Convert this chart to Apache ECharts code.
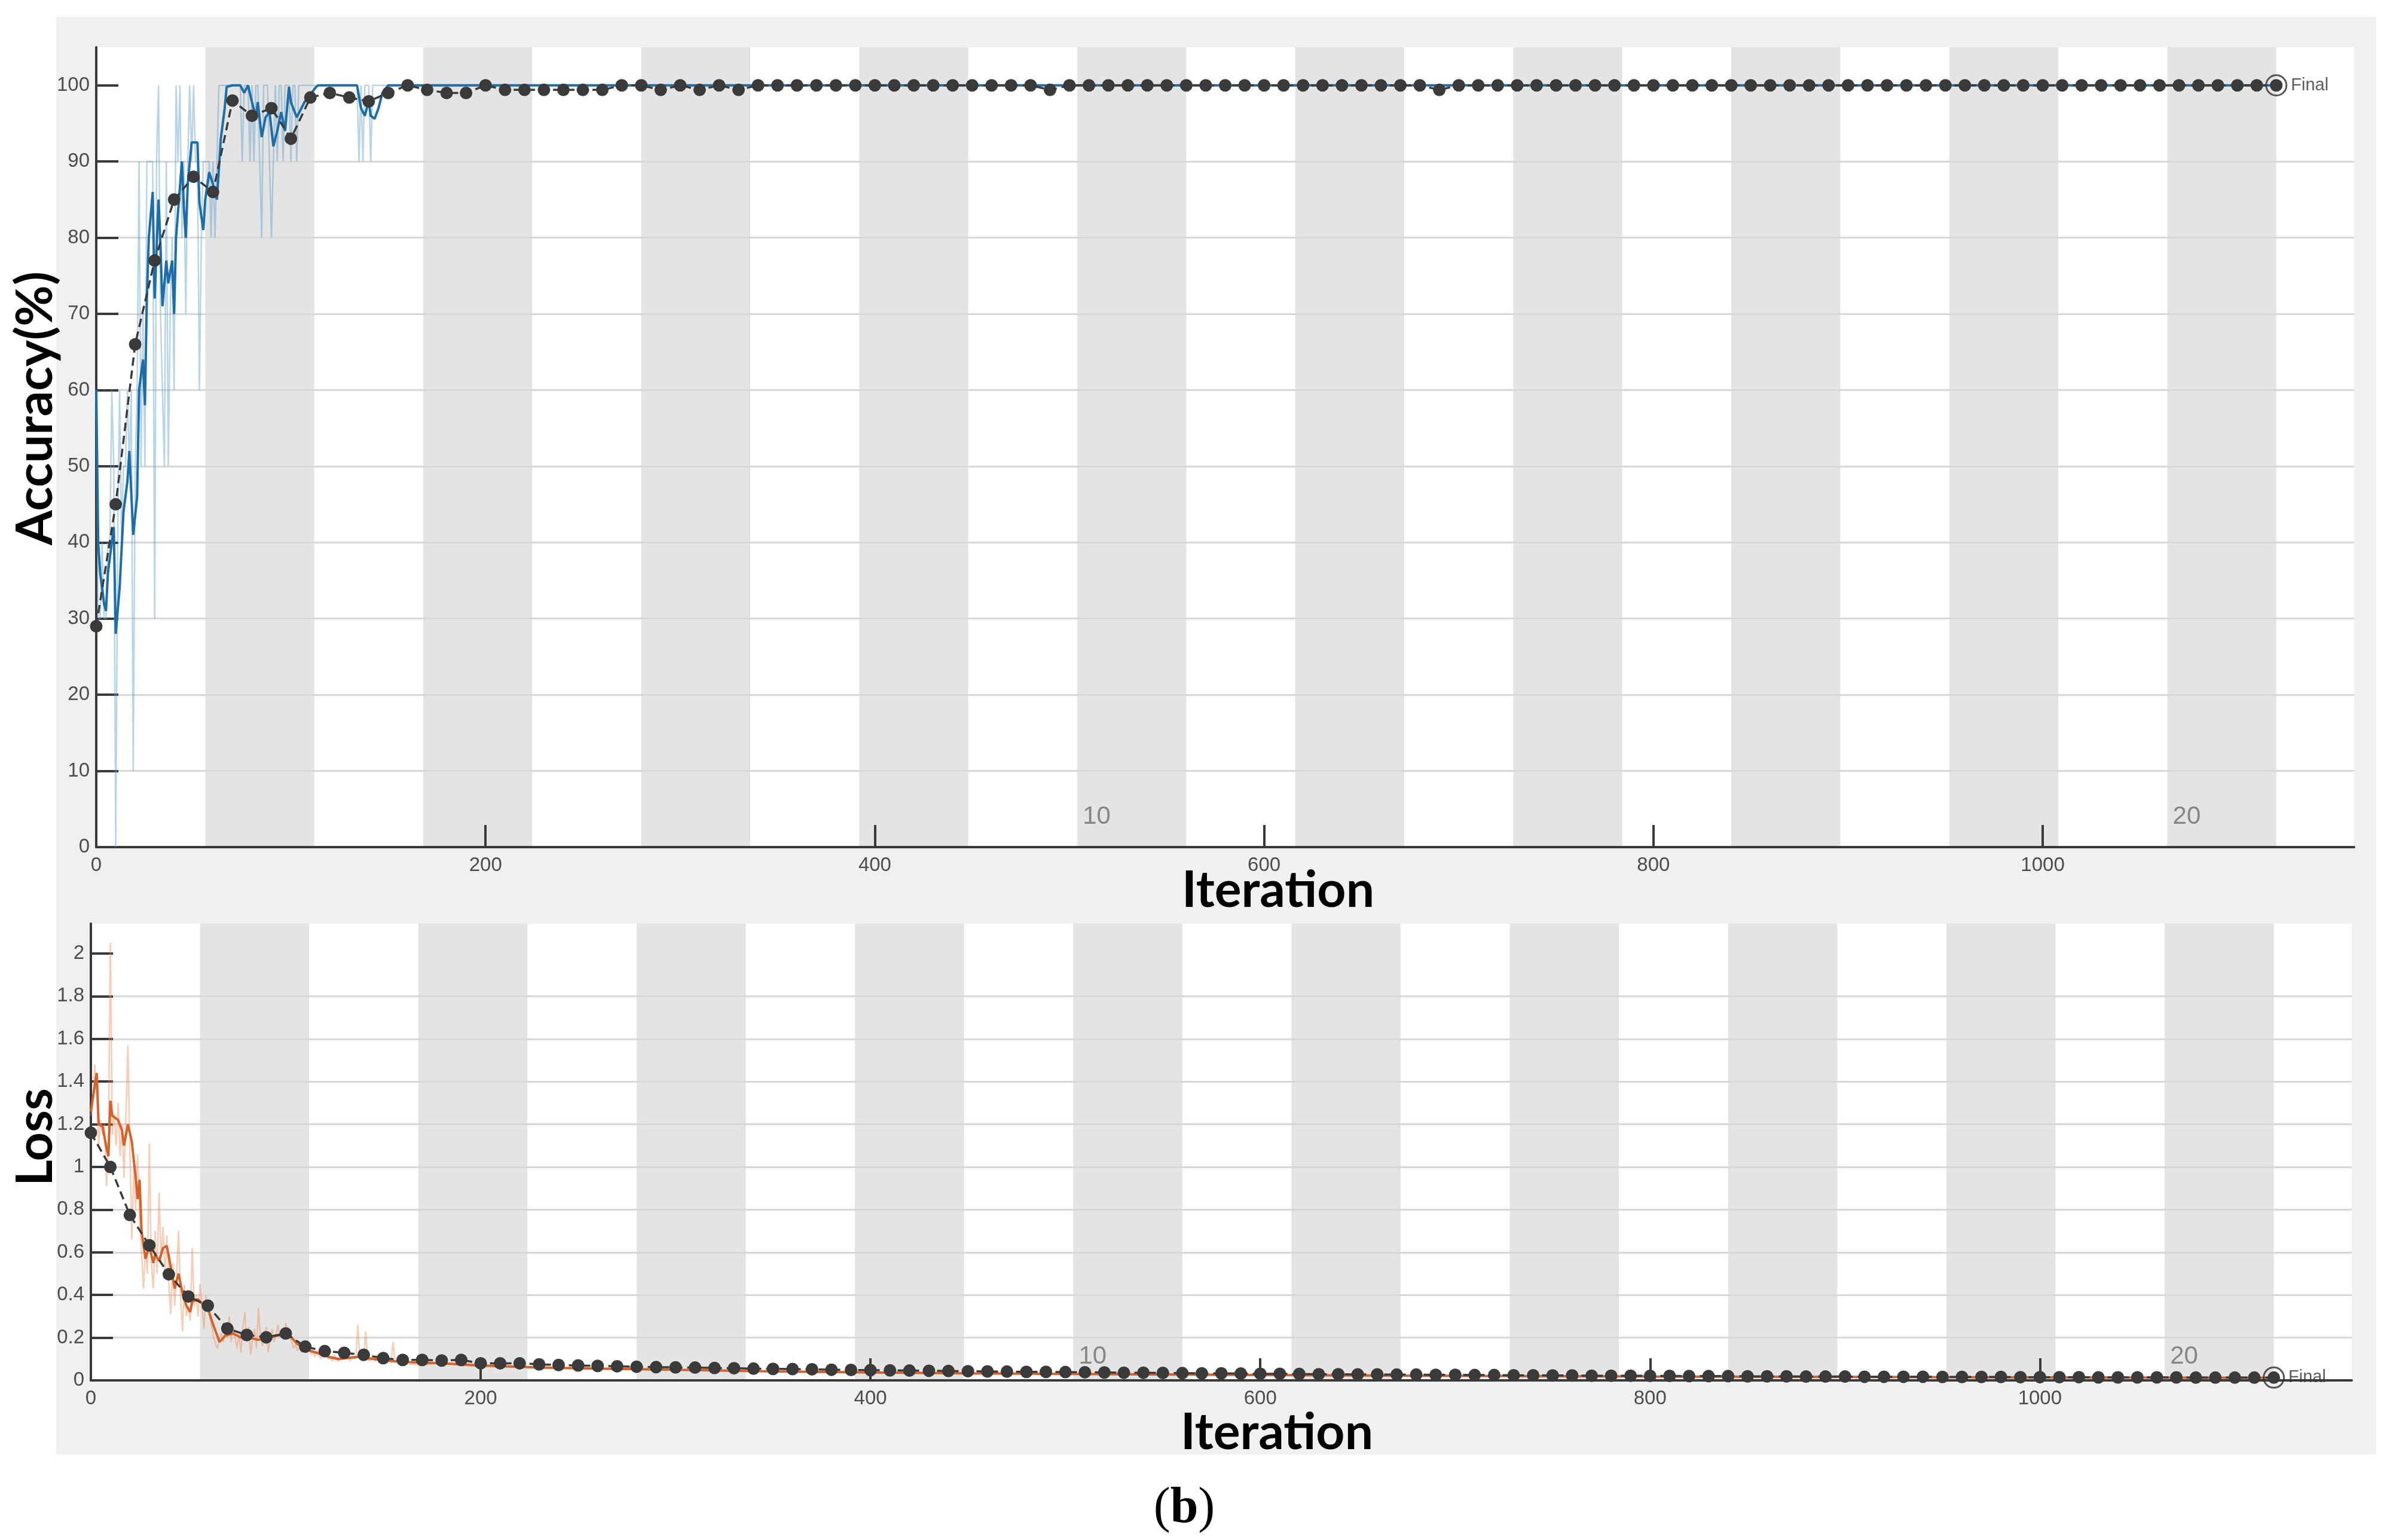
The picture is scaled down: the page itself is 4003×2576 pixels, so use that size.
<!DOCTYPE html>
<html><head><meta charset="utf-8">
<script src="https://cdn.jsdelivr.net/npm/echarts@6/dist/echarts.min.js"></script>
<style>html,body{margin:0;padding:0;background:#fff}#c{width:4003px;height:2576px}</style>
</head><body><div id="c"></div><script>
// ---------------- DATA ----------------
const ITERS_PER_EPOCH = 56;
const NUM_EPOCHS = 20;
const FINAL_ITER = 1120;
const VAL_STEP = 10;               // validation every 10 iterations
const epochLabelEpochs = [10, 20];
const accTicks = [0, 10, 20, 30, 40, 50, 60, 70, 80, 90, 100];
const lossTicks = [0, 0.2, 0.4, 0.6, 0.8, 1, 1.2, 1.4, 1.6, 1.8, 2];
const iterTicks = [0, 200, 400, 600, 800, 1000];

// raw mini-batch accuracy, one value per iteration 0..150
const rawAccEarly = [
 60,30,30,40,30,30,40,40,60,50,
 0,40,60,40,50,50,60,50,60,10,
 50,60,90,50,70,50,90,90,90,90,
 30,90,100,70,60,50,90,50,70,80,
 60,100,90,100,80,90,70,90,100,90,
 100,90,90,60,80,90,90,90,90,80,
 90,80,90,100,100,100,100,100,100,100,
 100,100,100,100,100,90,100,100,100,90,
 100,90,100,100,90,80,100,100,100,90,
 80,90,100,90,100,100,90,100,100,100,
 90,100,100,90,100,100,100,100,100,100,
 100,100,100,100,100,100,100,100,100,100,
 100,100,100,100,100,100,100,100,100,100,
 100,100,100,100,100,90,100,90,100,100,
 100,90,100,100,100,100,100,100,100,100,
 100
];
const rawAccLate = [[150,100],[1120,100]];

// smoothed training accuracy [iteration, value]
const smoothAcc = [
 [0,60],[1,40],[2,36],[4,32],[5,31],[6,36],[8,40],[9,42],[10,28],[12,34],[14,44],[16,48],[17,52],[19,41],
 [21,46],[22,60],[24,64],[25,58],[26,72],[27,80],[29,86],[30,72],[32,85],[33,79],[34,71],[36,77],[37,74],
 [39,77],[40,70],[41,80],[44,90],[45,84],[46,80],[47,87],[49,92.5],[52,92.5],[53,84.6],[55,81],[56,85],
 [58,88.6],[60,87],[62,85],[64,93],[66,97],[67,99.8],[70,100],[74,100],[76,99],[78,100],[80,97.8],
 [82,95.8],[83,97.8],[85,93.2],[87,95.8],[89,96.5],[91,92],[93,94],[95,96.5],[97,94],[99,99.8],
 [100,97.8],[103,95.8],[105,96.8],[107,97.8],[110,98.8],[113,99.8],[114,100],[134,100],[136,97],
 [138,96],[140,98],[141,96],[143,95.6],[145,97],[147,99],[150,100],[1120,100]
];

// validation accuracy, every VAL_STEP iterations from 0 to 1120
const valAcc = [
 29,45,66,77,85,88,86,98,96,97,
 93,98.4,99,98.4,97.9,99,100,99.4,99,99,
 100,99.4,99.4,99.4,99.4,99.4,99.4,100,100,99.4,
 100,99.4,100,99.4,
 100,100,100,100,100,100,100,100,100,100,100,100,100,100,100,
 99.4,
 100,100,100,100,100,100,100,100,100,100,100,100,100,100,100,100,100,100,100,
 99.4,
 100,100,100,100,100,100,100,100,100,100,100,100,100,100,100,100,100,100,100,100,
 100,100,100,100,100,100,100,100,100,100,100,100,100,100,100,100,100,100,100,100,
 100,100,100
];

// raw mini-batch loss, one value per iteration 0..160
const rawLossEarly = [
 1.24,1.30,1.48,1.35,1.10,1.22,1.15,1.20,0.91,1.10,
 2.05,1.15,1.25,1.10,1.30,1.05,1.20,0.95,1.25,1.57,
 1.10,0.66,1.00,0.80,1.06,0.75,0.60,0.43,0.62,0.50,
 1.11,0.55,0.43,0.70,0.50,0.88,0.55,0.72,0.50,0.68,
 0.45,0.31,0.55,0.35,0.50,0.70,0.40,0.23,0.45,0.30,
 0.35,0.28,0.62,0.35,0.40,0.30,0.45,0.35,0.24,0.40,
 0.33,0.30,0.25,0.20,0.17,0.15,0.20,0.22,0.18,0.25,
 0.20,0.30,0.18,0.25,0.20,0.15,0.22,0.13,0.25,0.32,
 0.18,0.25,0.12,0.20,0.24,0.15,0.34,0.20,0.16,0.22,
 0.25,0.13,0.20,0.24,0.18,0.22,0.26,0.20,0.24,0.19,
 0.27,0.22,0.20,0.18,0.15,0.17,0.14,0.16,0.13,0.15,
 0.14,0.13,0.16,0.12,0.13,0.11,0.14,0.12,0.10,0.13,
 0.11,0.12,0.10,0.11,0.09,0.12,0.10,0.09,0.11,0.10,
 0.12,0.10,0.11,0.09,0.12,0.10,0.11,0.26,0.10,0.09,
 0.11,0.23,0.10,0.09,0.11,0.10,0.09,0.12,0.10,0.09,
 0.10,0.08,0.10,0.09,0.08,0.18,0.09,0.08,0.09,0.07,0.08
];
const rawLossLate = [[170,0.07],[180,0.085],[190,0.07],[200,0.065],[220,0.06],[250,0.055],[300,0.048],
 [400,0.036],[500,0.03],[600,0.024],[700,0.02],[800,0.017],[900,0.015],[1000,0.013],[1120,0.011]];

// smoothed training loss [iteration, value]
const smoothLoss = [
 [0,1.26],[3,1.44],[4,1.2],[6,1.19],[8,1.09],[9,1.05],[10,1.31],[11,1.24],[14,1.22],[16,1.17],[17,1.1],
 [19,1.2],[21,1.12],[23,0.95],[24,0.85],[25,0.94],[26,0.7],[28,0.57],[30,0.63],[32,0.55],[33,0.59],
 [35,0.56],[37,0.62],[39,0.63],[41,0.53],[43,0.43],[45,0.5],[47,0.41],[49,0.35],[51,0.32],[52,0.37],
 [55,0.38],[57,0.36],[60,0.34],[62,0.28],[66,0.18],[69,0.21],[73,0.22],[77,0.2],[81,0.2],[86,0.19],
 [91,0.2],[96,0.21],[101,0.22],[106,0.17],[112,0.14],[117,0.126],[122,0.11],[127,0.1],[132,0.105],
 [137,0.11],[145,0.1],[155,0.09],[165,0.085],[180,0.08],[200,0.07],[230,0.06],[260,0.055],[300,0.05],
 [350,0.042],[400,0.037],[450,0.033],[500,0.03],[600,0.025],[700,0.021],[800,0.018],[900,0.016],
 [1000,0.014],[1120,0.012]
];

// validation loss, every VAL_STEP iterations from 0 to 1120
const valLoss = [
 1.16,1.0,0.775,0.633,0.497,0.393,0.35,0.243,0.213,0.202,
 0.22,0.158,0.137,0.129,0.12,0.104,0.096,0.096,0.093,0.096,
 0.08,0.08,0.08,0.075,0.072,0.07,0.068,0.066,0.064,0.062,
 0.061,0.06,0.058,0.057,0.055,0.054,0.053,0.052,0.05,0.049,
 0.048,0.047,0.046,0.045,0.044,0.043,0.042,0.041,0.04,0.04,
 0.039,0.038,0.037,0.036,0.036,0.035,0.034,0.033,0.033,0.032,
 0.031,0.031,0.03,0.029,0.029,0.028,0.028,0.027,0.027,0.026,
 0.026,0.025,0.025,0.024,0.024,0.023,0.023,0.022,0.022,0.022,
 0.021,0.021,0.02,0.02,0.02,0.019,0.019,0.019,0.018,0.018,
 0.018,0.017,0.017,0.017,0.017,0.016,0.016,0.016,0.016,0.015,
 0.015,0.015,0.015,0.014,0.014,0.014,0.014,0.014,0.013,0.013,
 0.013,0.013,0.013
];

// ---------------- BUILD ----------------
const perIter = arr => arr.map((v, i) => [i, v]);
const valPairs = arr => arr.map((v, i) => [i * VAL_STEP, v]);

const bands = [];
for (let e = 2; e <= NUM_EPOCHS; e += 2) {
  bands.push([{ xAxis: (e - 1) * ITERS_PER_EPOCH }, { xAxis: e * ITERS_PER_EPOCH }]);
}

const AXIS_COLOR = '#3a3a3a';
const LABEL_FONT = 'Liberation Sans';
const TITLE_FONT = 'Lato';
const plainNum = v => String(v);

function xAxisCfg(gi) {
  return {
    gridIndex: gi, type: 'value', min: 0, max: 1160, interval: 200, z: 2,
    axisLine: { show: true, lineStyle: { color: AXIS_COLOR, width: 4 } },
    axisTick: { show: true, inside: true, length: 37, customValues: iterTicks,
      lineStyle: { color: AXIS_COLOR, width: 4 } },
    axisLabel: { customValues: iterTicks, formatter: plainNum, fontSize: 33, color: '#4d4d4d',
      fontFamily: LABEL_FONT, margin: 14 },
    splitLine: { show: false }
  };
}
function yAxisCfg(gi, max, interval, ticks) {
  return {
    gridIndex: gi, type: 'value', min: 0, max: max, interval: interval, z: 2,
    axisLine: { show: true, onZero: false, lineStyle: { color: AXIS_COLOR, width: 4 } },
    axisTick: { show: true, inside: true, length: 37, customValues: ticks,
      lineStyle: { color: AXIS_COLOR, width: 4 } },
    axisLabel: { customValues: ticks, formatter: plainNum, fontSize: 33, color: '#4d4d4d',
      fontFamily: LABEL_FONT, margin: 11 },
    splitLine: { show: true, showMaxLine: false, showMinLine: false,
      lineStyle: { color: '#d8d8d8', width: 3 } }
  };
}

function panelSeries(gi, raw, smooth, val, rawColor, smoothColor, epochLabelY) {
  const valData = valPairs(val);
  const last = valData[valData.length - 1];
  return [
    { type: 'line', xAxisIndex: gi, yAxisIndex: gi, data: [], z: 1, silent: true,
      markArea: { silent: true, itemStyle: { color: '#e4e4e4' }, data: bands } },
    { type: 'line', xAxisIndex: gi, yAxisIndex: gi, data: raw, showSymbol: false, z: 3,
      lineStyle: { color: rawColor, width: 2.5 }, silent: true },
    { type: 'line', xAxisIndex: gi, yAxisIndex: gi, data: smooth, showSymbol: false, z: 4,
      lineStyle: { color: smoothColor, width: 4 }, silent: true },
    { type: 'line', xAxisIndex: gi, yAxisIndex: gi, data: valData, z: 5, silent: true,
      symbol: 'circle', symbolSize: 21, showSymbol: true,
      itemStyle: { color: '#3a3a3a' },
      lineStyle: { color: '#3a3a3a', width: 3.5, type: [14, 8] } },
    { type: 'scatter', xAxisIndex: gi, yAxisIndex: gi, data: [last], z: 6, silent: true,
      symbol: 'circle', symbolSize: 34,
      itemStyle: { color: 'rgba(0,0,0,0)', borderColor: '#2e2e2e', borderWidth: 3 },
      label: { show: true, position: 'right', distance: 6, formatter: 'Final', fontSize: 29,
        color: '#333', fontFamily: LABEL_FONT } },
    { type: 'scatter', xAxisIndex: gi, yAxisIndex: gi, z: 6, silent: true,
      symbolSize: 1, itemStyle: { color: 'rgba(0,0,0,0)' },
      data: epochLabelEpochs.map(e => ({ name: String(e), value: [(e - 1) * ITERS_PER_EPOCH + 10, epochLabelY] })),
      label: { show: true, position: 'inside', formatter: '{b}', fontSize: 42, color: '#6e6e6e',
        fontFamily: LABEL_FONT } }
  ];
}

const rawAcc = perIter(rawAccEarly).concat(rawAccLate);
const rawLoss = perIter(rawLossEarly).concat(rawLossLate);

const titleStyle = (txt) => ({ text: txt, fontSize: 84, fontWeight: 'bold', fontFamily: TITLE_FONT,
  fill: '#000', align: 'center', verticalAlign: 'middle', textAlign: 'center', textVerticalAlign: 'middle' });

const option = {
  animation: false,
  backgroundColor: '#ffffff',
  grid: [
    { left: 161, top: 79, width: 3777, height: 1338, show: true, backgroundColor: '#ffffff', borderWidth: 0 },
    { left: 152, top: 1545, width: 3782, height: 764, show: true, backgroundColor: '#ffffff', borderWidth: 0 }
  ],
  xAxis: [xAxisCfg(0), xAxisCfg(1)],
  yAxis: [yAxisCfg(0, 105, 10, accTicks), yAxisCfg(1, 2.14, 0.2, lossTicks)],
  series: [].concat(
    panelSeries(0, rawAcc, smoothAcc, valAcc, 'rgba(95,160,205,0.45)', '#1d6ea8', 4),
    panelSeries(1, rawLoss, smoothLoss, valLoss, 'rgba(238,145,95,0.45)', '#d4622a', 0.11)
  ),
  graphic: [
    { type: 'rect', z: -100, silent: true, shape: { x: 94, y: 28, width: 3881, height: 2405 },
      style: { fill: '#f0f0f0' } },
    { type: 'text', x: 60, y: 683, rotation: Math.PI / 2, silent: true, style: titleStyle('Accuracy(%)') },
    { type: 'text', x: 60, y: 1902, rotation: Math.PI / 2, silent: true, style: titleStyle('Loss') },
    { type: 'text', x: 2138, y: 1490, silent: true, style: titleStyle('Iteration') },
    { type: 'text', x: 2136, y: 2397, silent: true, style: titleStyle('Iteration') },
    { type: 'text', x: 1981, y: 2524, silent: true, style: {
        text: '{n|(}{b|b}{n|)}', align: 'center', verticalAlign: 'middle',
        textAlign: 'center', textVerticalAlign: 'middle',
        rich: { n: { fontSize: 84, fontFamily: 'Liberation Serif', fill: '#000', color: '#000' },
                b: { fontSize: 84, fontWeight: 'bold', fontFamily: 'Liberation Serif', fill: '#000', color: '#000' } } } }
  ]
};

const chart = echarts.init(document.getElementById('c'), null, { renderer: 'canvas', width: 4003, height: 2576 });
chart.setOption(option);
</script></body></html>
